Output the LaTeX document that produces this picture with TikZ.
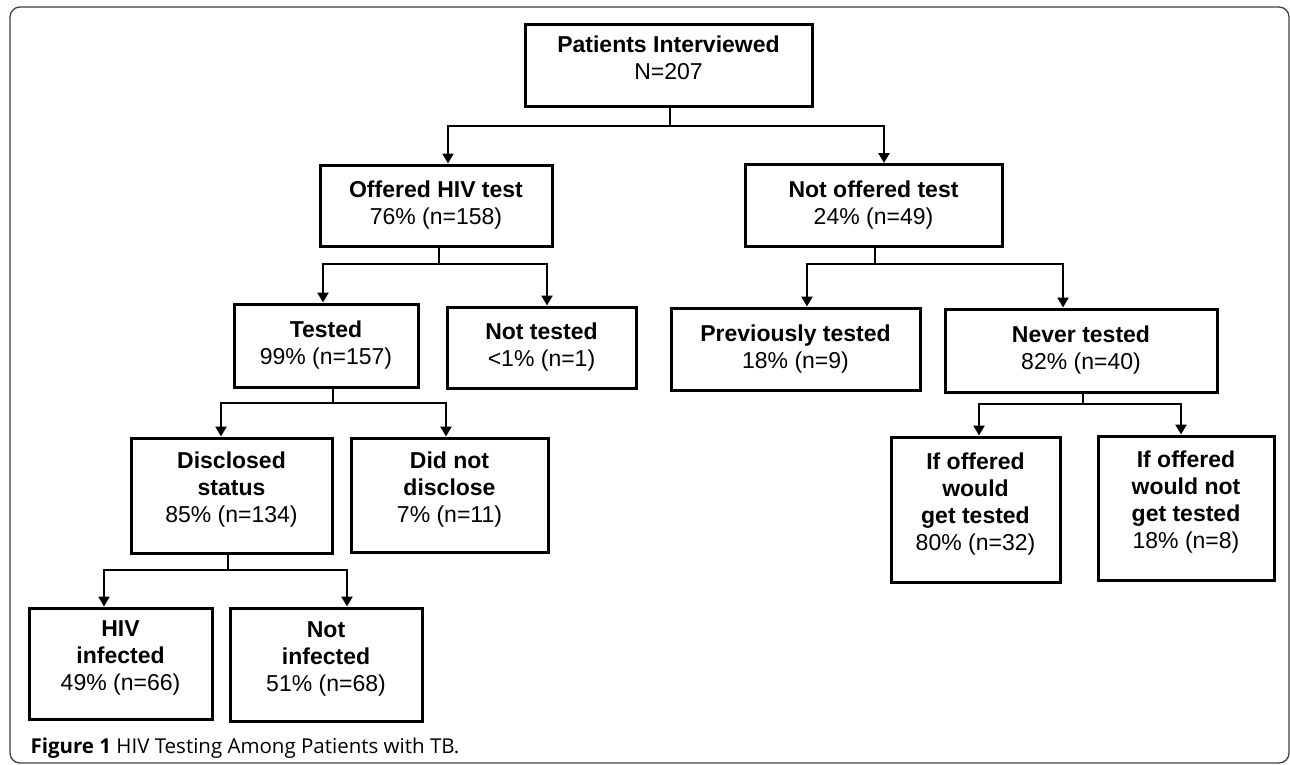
\documentclass[tikz,border=0pt]{standalone}
\usepackage{fontspec}
\setmainfont{Liberation Sans}
\newfontfamily\capfont{Open Sans}
\usepackage{tikz}
\usetikzlibrary{arrows.meta}

\begin{document}
\begin{tikzpicture}[x = 1pt, y = -1pt,
        box/.style = {draw = black, line width = 3pt, fill = white, align = center,
            inner sep = 0pt, font = \fontsize{23}{27}\selectfont},
        lifted/.style = {execute at end node = {\rule[-16pt]{0pt}{0pt}}},
        link/.style = {line width = 2.4pt, -{Triangle[width = 11pt, length = 10pt]}},
        frame/.style = {draw = black!75, line width = 1.3pt, rounded corners = 10pt}]
                    \useasboundingbox (0, 0) rectangle (1290, 765);
                    \draw[frame] (10, 7) rectangle (1289, 763);

                    % top level
                    \node[box, lifted, minimum width = 287pt, minimum height = 82pt] (pat) at (668.5, 66)
                        {\textbf{Patients Interviewed}\\N=207};
                    \node[box, minimum width = 232pt, minimum height = 81pt] (off) at (436, 205.5)
                        {\textbf{Offered HIV test}\\76\% (n=158)};
                    \node[box, minimum width = 257pt, minimum height = 82pt] (notoff) at (873.5, 205.5)
                        {\textbf{Not offered test}\\24\% (n=49)};

                    \node[box, minimum width = 184pt, minimum height = 83pt] (tst) at (326, 345.5)
                        {\textbf{Tested}\\99\% (n=157)};
                    \node[box, minimum width = 189pt, minimum height = 81pt] (ntst) at (541.5, 347.5)
                        {\textbf{Not tested}\\<1\% (n=1)};
                    \node[box, minimum width = 249pt, minimum height = 82pt] (prev) at (795.5, 349)
                        {\textbf{Previously tested}\\18\% (n=9)};
                    \node[box, minimum width = 272pt, minimum height = 83pt] (never) at (1081, 350.5)
                        {\textbf{Never tested}\\82\% (n=40)};

                    \node[box, lifted, minimum width = 201pt, minimum height = 115pt] (discl) at (231.5, 495.5)
                        {\textbf{Disclosed}\\\textbf{status}\\85\% (n=134)};
                    \node[box, lifted, minimum width = 197pt, minimum height = 114pt] (nodis) at (449.5, 495)
                        {\textbf{Did not}\\\textbf{disclose}\\7\% (n=11)};
                    \node[box, lifted, minimum width = 169pt, minimum height = 145pt] (would) at (975.5, 509.5)
                        {\textbf{If offered}\\\textbf{would}\\\textbf{get tested}\\80\% (n=32)};
                    \node[box, lifted, minimum width = 176pt, minimum height = 144pt] (wouldnot) at (1186, 508)
                        {\textbf{If offered}\\\textbf{would not}\\\textbf{get tested}\\18\% (n=8)};

                    \node[box, lifted, minimum width = 183pt, minimum height = 111pt] (hiv) at (120.5, 663.5)
                        {\textbf{HIV}\\\textbf{infected}\\49\% (n=66)};
                    \node[box, lifted, minimum width = 192pt, minimum height = 113pt] (notinf) at (326, 664.5)
                        {\textbf{Not}\\\textbf{infected}\\51\% (n=68)};

                    % branches
                    \draw[link] ([xshift = 1.5pt]pat.south) -- ++(0, 17.5) -| ([xshift = 12pt]off.north);
                    \draw[link] ([xshift = 1.5pt]pat.south) -- ++(0, 17.5) -| ([xshift = 10.5pt]notoff.north);
                    \draw[link] ([xshift = 3pt]off.south) -- ++(0, 16.5) -| ([xshift = -3pt]tst.north);
                    \draw[link] ([xshift = 3pt]off.south) -- ++(0, 16.5) -| ([xshift = 5.5pt]ntst.north);
                    \draw[link] ([xshift = 1.5pt]notoff.south) -- ++(0, 16) -| ([xshift = 11.5pt]prev.north);
                    \draw[link] ([xshift = 1.5pt]notoff.south) -- ++(0, 16) -| ([xshift = -18pt]never.north);
                    \draw[link] ([xshift = 7pt]tst.south) -- ++(0, 14.5) -| ([xshift = -10.5pt]discl.north);
                    \draw[link] ([xshift = 7pt]tst.south) -- ++(0, 14.5) -| ([xshift = -3.5pt]nodis.north);
                    \draw[link] ([xshift = -3.5pt]discl.south) -- ++(0, 15.5) -| ([xshift = -16.5pt]hiv.north);
                    \draw[link] ([xshift = -3.5pt]discl.south) -- ++(0, 15.5) -| ([xshift = 21pt]notinf.north);
                    \draw[link] ([xshift = 2pt]never.south) -- ++(0, 10.5) -| ([xshift = 3.5pt]would.north);
                    \draw[link] ([xshift = 2pt]never.south) -- ++(0, 10.5) -| ([xshift = -5pt]wouldnot.north);

                    \node[anchor = base west, font = \capfont\fontsize{20.5}{24}\selectfont] (cap) at (27, 753)
                        {\textbf{Figure 1} HIV Testing Among Patients with TB.};
                \end{tikzpicture}
\end{document}
